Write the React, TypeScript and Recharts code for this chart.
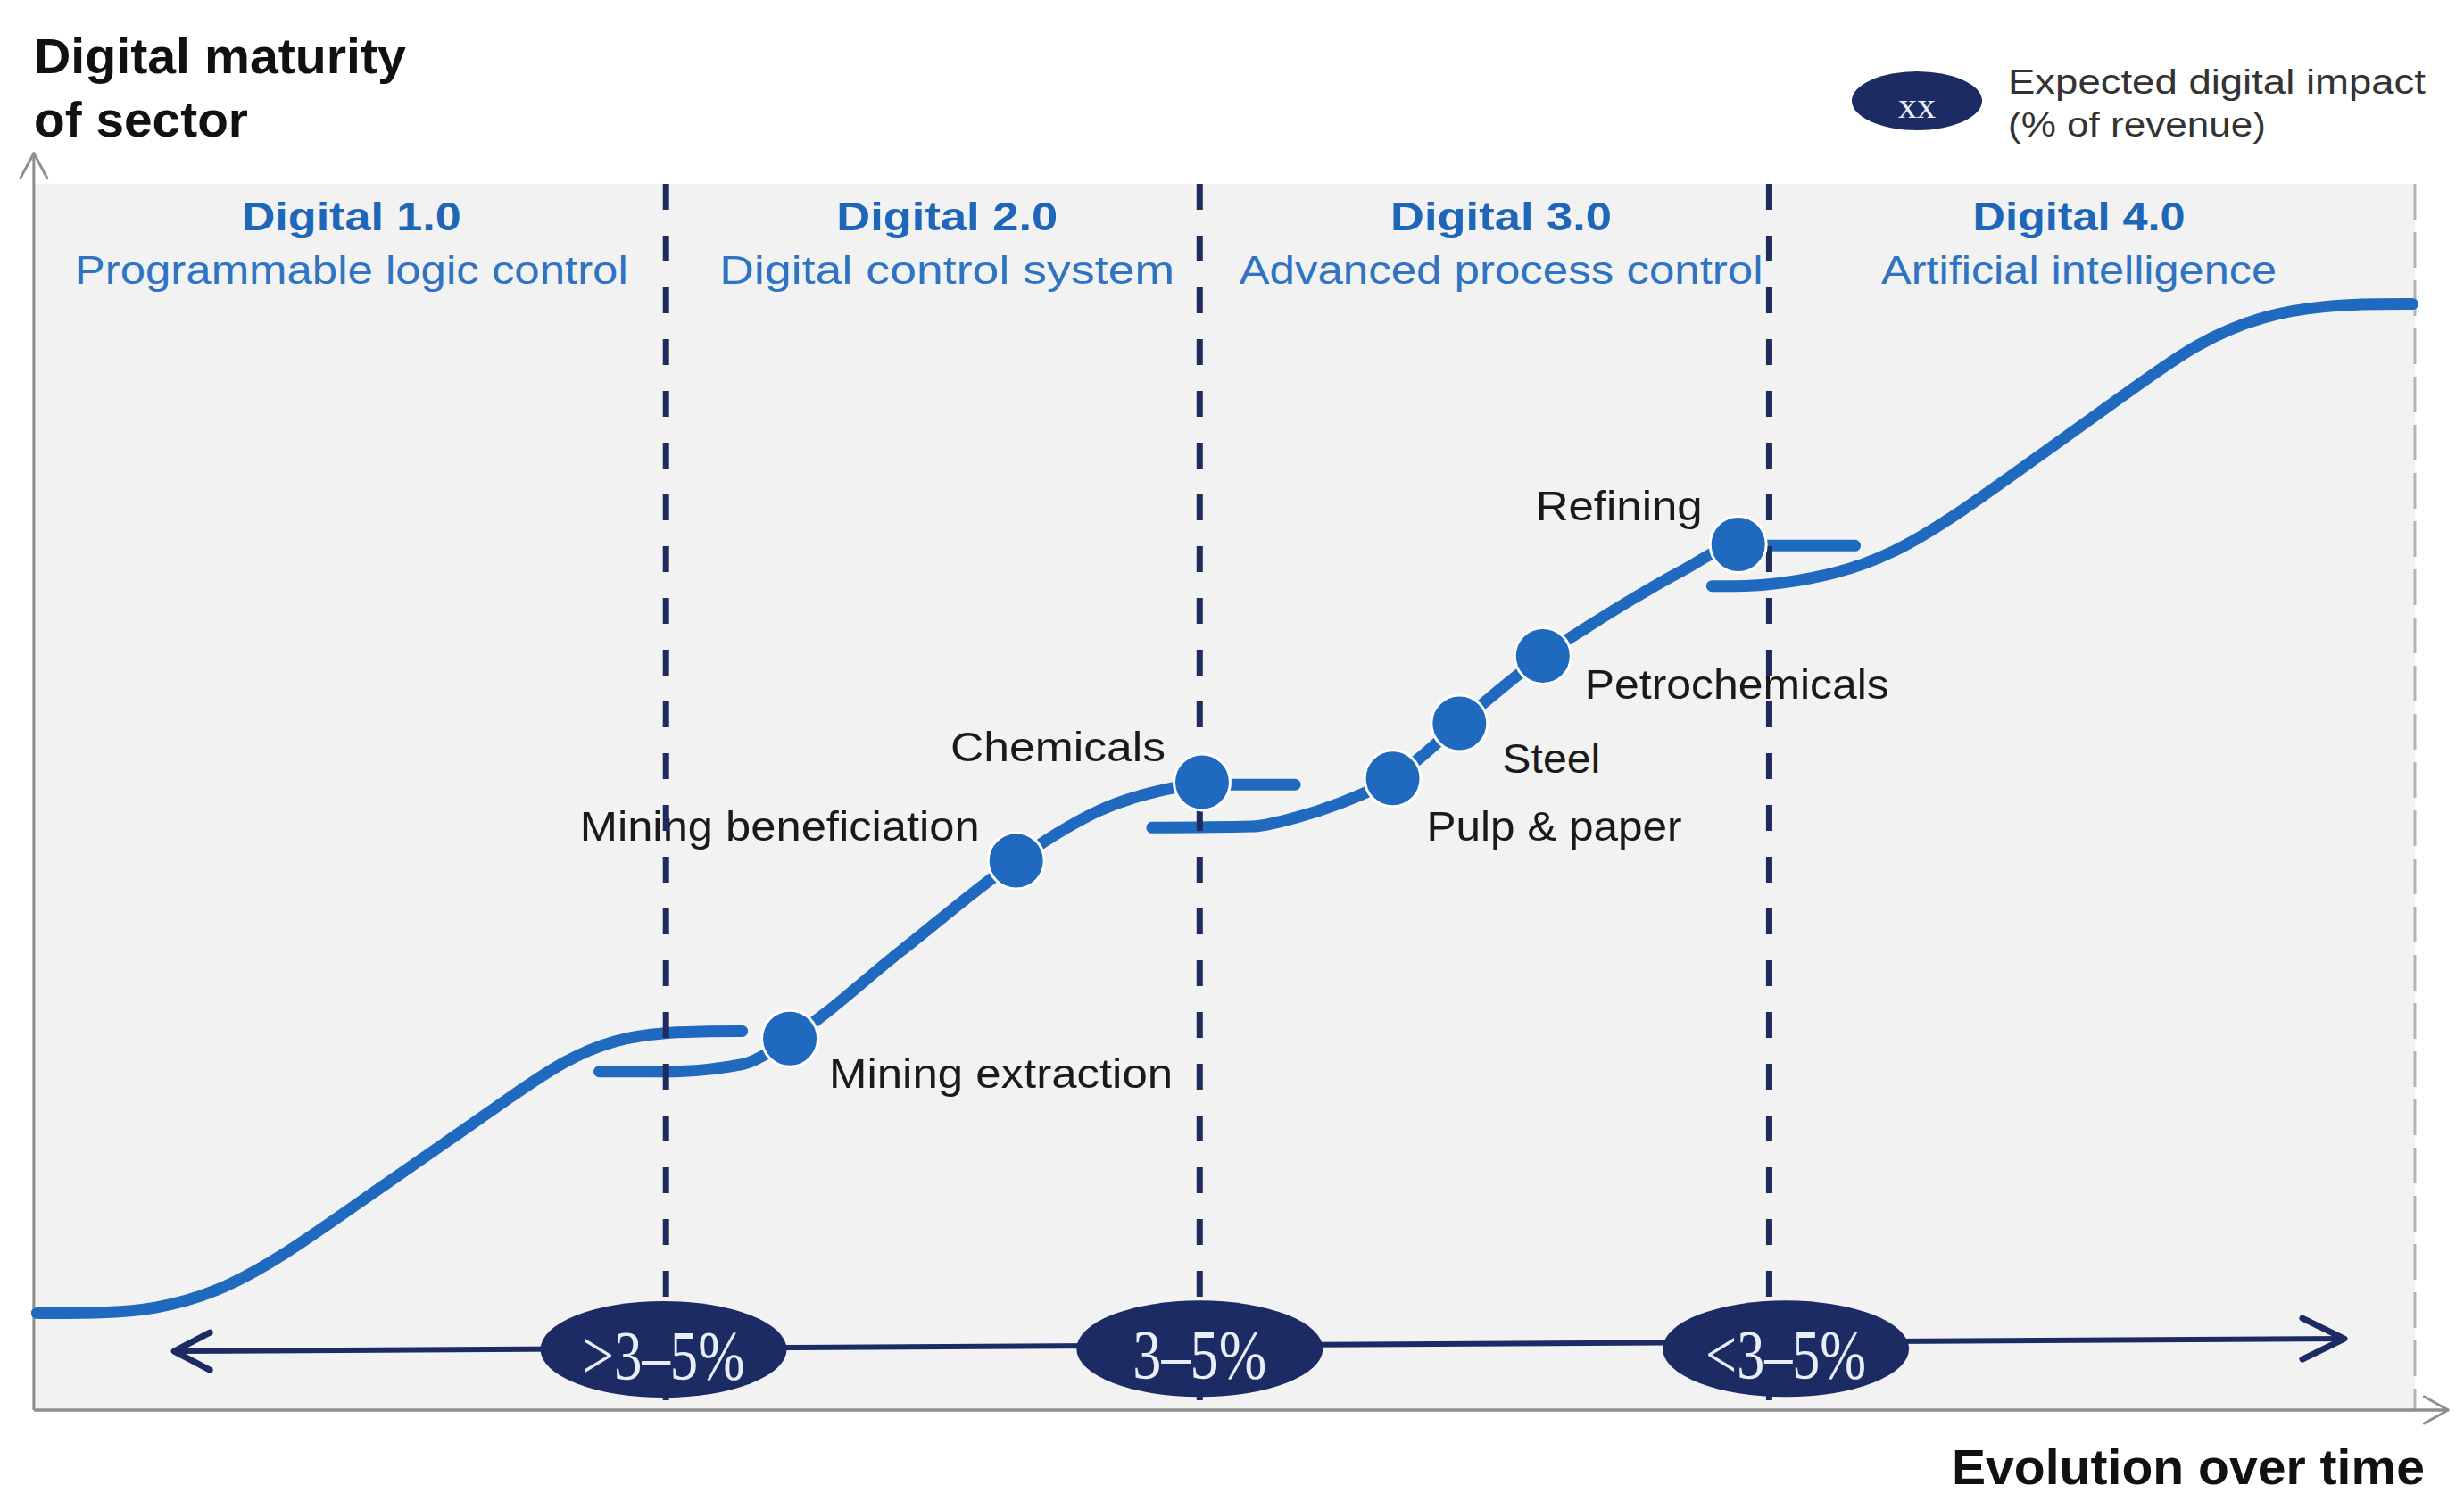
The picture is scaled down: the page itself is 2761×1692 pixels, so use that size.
import React from 'react';
import {
  ComposedChart,
  XAxis,
  YAxis,
  Line,
  Scatter,
  ReferenceLine,
  ReferenceArea,
  ReferenceDot,
} from 'recharts';

// ------------------------------------------------------------------
// DATA  (x = evolution over time 0–100, y = digital maturity 0–100)
// ------------------------------------------------------------------
const phaseBoundaries = [26.6, 49.0, 72.9];
const phaseCenters = [13.4, 38.4, 61.65, 85.9];
const phaseTitles = ['Digital 1.0', 'Digital 2.0', 'Digital 3.0', 'Digital 4.0'];
const phaseSubtitles = [
  'Programmable logic control',
  'Digital control system',
  'Advanced process control',
  'Artificial intelligence',
];

const curveDigital1 = [
  { x: 0.2, y: 7.9 },
  { x: 3.0, y: 7.9 },
  { x: 5.1, y: 8.2 },
  { x: 7.7, y: 9.5 },
  { x: 10.5, y: 12.5 },
  { x: 13.7, y: 16.9 },
  { x: 16.9, y: 21.2 },
  { x: 20.2, y: 25.7 },
  { x: 22.3, y: 28.5 },
  { x: 24.5, y: 30.3 },
  { x: 26.6, y: 30.8 },
  { x: 28.5, y: 30.9 },
  { x: 29.8, y: 30.9 },
];

const curveDigital2 = [
  { x: 23.8, y: 27.6 },
  { x: 26.6, y: 27.6 },
  { x: 29.8, y: 28.2 },
  { x: 31.8, y: 30.3 },
  { x: 36.5, y: 37.5 },
  { x: 41.3, y: 44.8 },
  { x: 43.0, y: 47.0 },
  { x: 44.8, y: 48.9 },
  { x: 46.9, y: 50.3 },
  { x: 49.1, y: 51.0 },
  { x: 53.0, y: 51.0 },
];

const curveDigital3 = [
  { x: 47.0, y: 47.5 },
  { x: 51.2, y: 47.6 },
  { x: 53.0, y: 48.3 },
  { x: 54.9, y: 49.5 },
  { x: 57.1, y: 51.5 },
  { x: 59.9, y: 56.0 },
  { x: 63.4, y: 61.5 },
  { x: 65.3, y: 63.9 },
  { x: 67.3, y: 66.3 },
  { x: 69.2, y: 68.4 },
  { x: 71.6, y: 70.5 },
  { x: 76.5, y: 70.5 },
];

const curveDigital4 = [
  { x: 70.5, y: 67.2 },
  { x: 72.0, y: 67.2 },
  { x: 73.0, y: 67.3 },
  { x: 75.6, y: 68.1 },
  { x: 78.1, y: 69.8 },
  { x: 80.8, y: 73.0 },
  { x: 84.5, y: 78.2 },
  { x: 88.1, y: 83.2 },
  { x: 90.8, y: 87.0 },
  { x: 93.6, y: 89.3 },
  { x: 96.3, y: 90.1 },
  { x: 98.5, y: 90.2 },
  { x: 99.9, y: 90.2 },
];

const sectors = [
  { name: 'Mining extraction', x: 31.8, y: 30.3 },
  { name: 'Mining beneficiation', x: 41.3, y: 44.8 },
  { name: 'Chemicals', x: 49.1, y: 51.2 },
  { name: 'Pulp & paper', x: 57.1, y: 51.5 },
  { name: 'Steel', x: 59.9, y: 56.0 },
  { name: 'Petrochemicals', x: 63.4, y: 61.5 },
  { name: 'Refining', x: 71.6, y: 70.6 },
];

const impactLabels = ['>3–5%', '3–5%', '<3–5%'];
const impactX = [26.5, 49.0, 73.6];
const impactY = [4.95, 5.0, 5.0];

const timeArrow = [
  { x: 5.96, y: 4.8 },
  { x: 97.04, y: 5.82 },
];
const yAxisLine = [
  { x: 0.07, y: 0 },
  { x: 0.07, y: 102.5 },
];
const xAxisLine = [
  { x: 0.07, y: 0 },
  { x: 101.4, y: 0 },
];

const yAxisTitle = ['Digital maturity', 'of sector'];
const xAxisTitle = 'Evolution over time';
const legendSymbol = 'xx';
const legendText = ['Expected digital impact', '(% of revenue)'];

// ------------------------------------------------------------------
// LAYOUT / STYLE
// ------------------------------------------------------------------
const W = 2761;
const H = 1692;
const X_DOMAIN: [number, number] = [-1.3483, 102.06];
const Y_DOMAIN: [number, number] = [-8.151, 114.99];

const BLUE = '#1F69BF';
const NAVY = '#1C2B63';
const DASH_NAVY = '#1E2B5C';
const HEADER_BLUE = '#1E66B8';
const SUB_BLUE = '#2E74C2';
const BG = '#F2F2F2';
const AXIS_GRAY = '#8E8E8E';
const TEXT_DARK = '#1A1A1A';

const SANS = "'Liberation Sans', Arial, Helvetica, sans-serif";
const SERIF = "'Liberation Serif', 'Times New Roman', serif";

const LABEL_LAYOUT: Record<string, { dx: number; dy: number; anchor: 'start' | 'end'; w: number }> = {
  'Mining extraction': { dx: 44, dy: 55, anchor: 'start', w: 385 },
  'Mining beneficiation': { dx: -41, dy: -22, anchor: 'end', w: 448 },
  Chemicals: { dx: -41, dy: -23, anchor: 'end', w: 241 },
  'Pulp & paper': { dx: 38, dy: 70, anchor: 'start', w: 286 },
  Steel: { dx: 48, dy: 55, anchor: 'start', w: 110 },
  Petrochemicals: { dx: 47, dy: 48, anchor: 'start', w: 341 },
  Refining: { dx: -40, dy: -27, anchor: 'end', w: 187 },
};
const HEADER_W = [246, 248, 248, 238];
const SUB_W = [620, 510, 587, 443];
const IMPACT_W = [182, 150, 180];

function SvgText(props: any) {
  const {
    x,
    y,
    children,
    size,
    weight = 400,
    fill,
    anchor = 'start',
    width,
    family = SANS,
  } = props;
  const extra: any = width ? { textLength: width, lengthAdjust: 'spacingAndGlyphs' } : {};
  return (
    <text
      x={x}
      y={y}
      fontSize={size}
      fontWeight={weight}
      fill={fill}
      textAnchor={anchor}
      fontFamily={family}
      {...extra}
    >
      {children}
    </text>
  );
}

const chevronDot = (which: number, rel: [number, number][], stroke: string, sw: number) => (p: any) => {
  if (p.index !== which || p.cx == null) return <g key={`d-${p.index}`} />;
  const pts = rel.map(([dx, dy]) => `${p.cx + dx},${p.cy + dy}`).join(' ');
  return (
    <polyline
      key={`d-${p.index}`}
      points={pts}
      fill="none"
      stroke={stroke}
      strokeWidth={sw}
      strokeLinecap="round"
      strokeLinejoin="round"
    />
  );
};

const timeArrowDot = (p: any) => {
  if (p.cx == null) return <g key={`t-${p.index}`} />;
  const rel: [number, number][] =
    p.index === 0
      ? [
          [40, -21],
          [0, 0],
          [40, 21],
        ]
      : [
          [-47, -23],
          [0, 0],
          [-47, 23],
        ];
  const pts = rel.map(([dx, dy]) => `${p.cx + dx},${p.cy + dy}`).join(' ');
  return (
    <polyline
      key={`t-${p.index}`}
      points={pts}
      fill="none"
      stroke={NAVY}
      strokeWidth={7}
      strokeLinecap="round"
      strokeLinejoin="round"
    />
  );
};

const SectorMarker = (p: any) => (
  <circle cx={p.cx} cy={p.cy} r={31.5} fill={BLUE} stroke="#FFFFFF" strokeWidth={3} />
);

const SectorLabel = (p: any) => {
  const name = p.payload ? p.payload.name : '';
  const L = LABEL_LAYOUT[name];
  if (!L) return <g />;
  return (
    <SvgText x={p.cx + L.dx} y={p.cy + L.dy} size={47} fill={TEXT_DARK} anchor={L.anchor} width={L.w}>
      {name}
    </SvgText>
  );
};

const curveList: { data: { x: number; y: number }[]; type: 'basis' | 'monotone' }[] = [
  { data: curveDigital1, type: 'basis' },
  { data: curveDigital2, type: 'monotone' },
  { data: curveDigital3, type: 'monotone' },
  { data: curveDigital4, type: 'basis' },
];

export default function App() {
  return (
    <div style={{ position: 'absolute', left: 0, top: 0, width: W, height: H, background: '#FFFFFF' }}>
      <ComposedChart width={W} height={H} margin={{ top: 0, right: 0, bottom: 0, left: 0 }}>
        <XAxis type="number" dataKey="x" domain={X_DOMAIN} hide allowDataOverflow />
        <YAxis type="number" domain={Y_DOMAIN} hide allowDataOverflow />

        {/* plot background */}
        <ReferenceArea
          x1={0.1}
          x2={100}
          y1={0}
          y2={100}
          fill={BG}
          fillOpacity={1}
          stroke="none"
          zIndex={1}
        />

        {/* right boundary (gray dashed) */}
        <ReferenceLine
          segment={[
            { x: 100, y: 100 },
            { x: 100, y: 0 },
          ]}
          stroke="#B4B4B4"
          strokeWidth={3}
          strokeDasharray="40 14"
          zIndex={2}
        />

        {/* axes with arrow heads */}
        <Line
          data={yAxisLine}
          dataKey="y"
          type="linear"
          stroke={AXIS_GRAY}
          strokeWidth={3}
          dot={chevronDot(1, [[-15, 28], [0, 0], [15, 28]], AXIS_GRAY, 3)}
          activeDot={false}
          isAnimationActive={false}
          zIndex={3}
        />
        <Line
          data={xAxisLine}
          dataKey="y"
          type="linear"
          stroke={AXIS_GRAY}
          strokeWidth={3.5}
          dot={chevronDot(1, [[-27, -15], [0, 0], [-27, 15]], AXIS_GRAY, 3)}
          activeDot={false}
          isAnimationActive={false}
          zIndex={3}
        />

        {/* maturity curves */}
        {curveList.map((c, i) => (
          <Line
            key={`curve-${i}`}
            data={c.data}
            dataKey="y"
            type={c.type}
            stroke={BLUE}
            strokeWidth={13}
            strokeLinecap="round"
            strokeLinejoin="round"
            dot={false}
            activeDot={false}
            isAnimationActive={false}
            zIndex={10}
          />
        ))}

        {/* sector labels */}
        <Scatter data={sectors} dataKey="y" shape={SectorLabel} isAnimationActive={false} zIndex={20} />

        {/* phase boundaries */}
        {phaseBoundaries.map((b, i) => (
          <ReferenceLine
            key={`pb-${i}`}
            segment={[
              { x: b, y: 100 },
              { x: b, y: 0 },
            ]}
            stroke={DASH_NAVY}
            strokeWidth={7}
            strokeDasharray="29 29"
            zIndex={30}
          />
        ))}

        {/* sector markers */}
        <Scatter data={sectors} dataKey="y" shape={SectorMarker} isAnimationActive={false} zIndex={40} />

        {/* time arrow */}
        <Line
          data={timeArrow}
          dataKey="y"
          type="linear"
          stroke={NAVY}
          strokeWidth={6}
          dot={timeArrowDot}
          activeDot={false}
          isAnimationActive={false}
          zIndex={50}
        />

        {/* expected impact ellipses */}
        {impactLabels.map((lab, i) => (
          <ReferenceDot
            key={`imp-${i}`}
            x={impactX[i]}
            y={impactY[i]}
            r={1}
            zIndex={60}
            shape={(p: any) => (
              <g>
                <ellipse cx={p.cx} cy={p.cy} rx={138} ry={54} fill={NAVY} />
                <SvgText
                  x={p.cx}
                  y={p.cy + 33}
                  size={78}
                  fill="#E9EDF6"
                  anchor="middle"
                  family={SERIF}
                  width={IMPACT_W[i]}
                >
                  {lab}
                </SvgText>
              </g>
            )}
          />
        ))}

        {/* phase headers */}
        {phaseTitles.map((t, i) => (
          <ReferenceDot
            key={`ph-${i}`}
            x={phaseCenters[i]}
            y={100}
            r={1}
            zIndex={70}
            shape={(p: any) => (
              <g>
                <SvgText
                  x={p.cx}
                  y={p.cy + 52}
                  size={44}
                  weight={700}
                  fill={HEADER_BLUE}
                  anchor="middle"
                  width={HEADER_W[i]}
                >
                  {t}
                </SvgText>
                <SvgText
                  x={p.cx}
                  y={p.cy + 112}
                  size={44}
                  fill={SUB_BLUE}
                  anchor="middle"
                  width={SUB_W[i]}
                >
                  {phaseSubtitles[i]}
                </SvgText>
              </g>
            )}
          />
        ))}

        {/* y-axis title */}
        <ReferenceDot
          x={0}
          y={100}
          r={1}
          zIndex={70}
          shape={(p: any) => (
            <g>
              <SvgText x={p.cx + 2} y={p.cy - 124} size={56} weight={700} fill="#111111" width={417}>
                {yAxisTitle[0]}
              </SvgText>
              <SvgText x={p.cx + 2} y={p.cy - 53} size={56} weight={700} fill="#111111" width={240}>
                {yAxisTitle[1]}
              </SvgText>
            </g>
          )}
        />

        {/* legend */}
        <ReferenceDot
          x={100}
          y={100}
          r={1}
          zIndex={70}
          shape={(p: any) => (
            <g>
              <ellipse cx={p.cx - 558} cy={p.cy - 93} rx={73} ry={33} fill={NAVY} />
              <SvgText
                x={p.cx - 558}
                y={p.cy - 74}
                size={42}
                fill="#E9EDF6"
                anchor="middle"
                family={SERIF}
                width={42}
              >
                {legendSymbol}
              </SvgText>
              <SvgText x={p.cx - 456} y={p.cy - 101} size={38} fill="#333333" width={468}>
                {legendText[0]}
              </SvgText>
              <SvgText x={p.cx - 456} y={p.cy - 53} size={38} fill="#333333" width={289}>
                {legendText[1]}
              </SvgText>
            </g>
          )}
        />

        {/* x-axis title */}
        <ReferenceDot
          x={100}
          y={0}
          r={1}
          zIndex={70}
          shape={(p: any) => (
            <SvgText x={p.cx + 11} y={p.cy + 83} size={56} weight={700} fill="#111111" anchor="end" width={530}>
              {xAxisTitle}
            </SvgText>
          )}
        />
      </ComposedChart>
    </div>
  );
}
